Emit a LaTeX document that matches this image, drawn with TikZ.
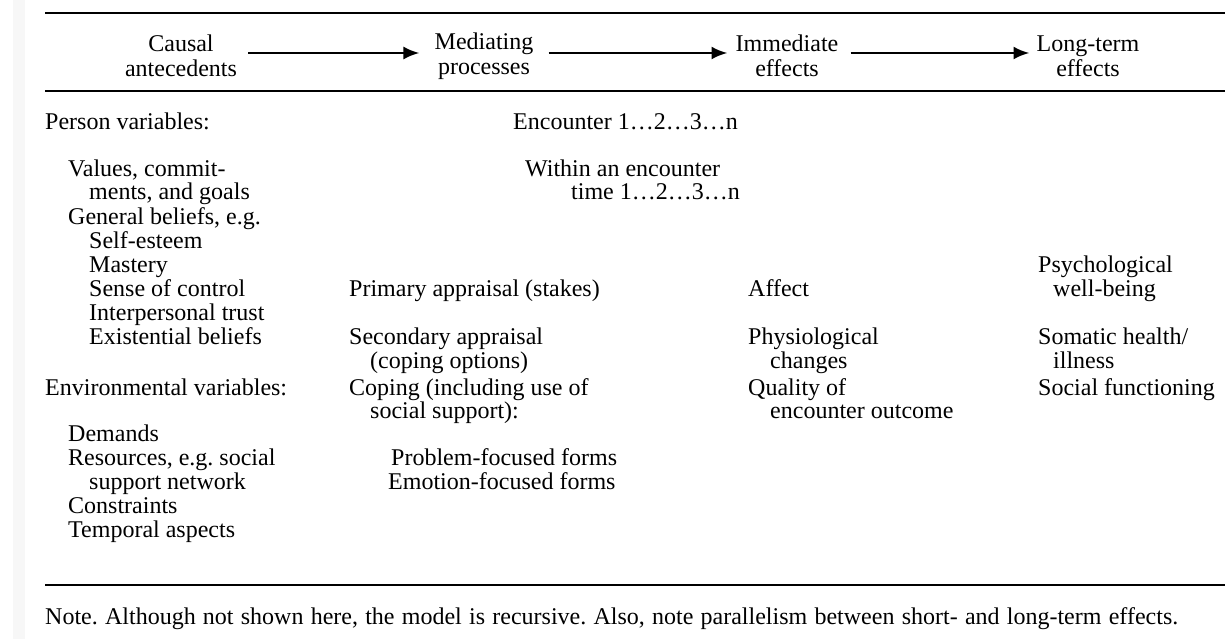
\documentclass[tikz,border=0pt]{standalone}
\usepackage{fontspec}
\setmainfont{Liberation Serif}
\usetikzlibrary{arrows.meta}
\frenchspacing
\begin{document}
\begin{tikzpicture}[x=1pt,y=-1pt,
  every node/.style={font=\fontsize{24}{25}\selectfont, inner sep=0pt},
  txt/.style={anchor=base west},
  head/.style={align=center, anchor=center},
  rule/.style={line width=2.3pt},
  flow/.style={line width=2.5pt, -{Latex[length=16pt,width=13pt]}}]
\useasboundingbox (0,0) rectangle (1230,639);
% faint strip along the left edge of the page
\fill[black!3] (13,0) rectangle (25,639);

% rules of the table
\draw[rule] (45,13) -- (1225,13);
\draw[rule] (45,91) -- (1225,91);
\draw[rule] (45,585) -- (1225,585);

% column headings
\node[head] (h1) at (181,56) {Causal\\antecedents};
\node[head] (h2) at (484,56) {Mediating\\processes};
\node[head] (h3) at (787,56) {Immediate\\effects};
\node[head] (h4) at (1088,56) {Long-term\\effects};
\draw[flow] ([shift={(11pt,3pt)}]h1.east) -- ([shift={(-15pt,3pt)}]h2.west);
\draw[flow] ([shift={(15pt,3pt)}]h2.east) -- ([shift={(-8pt,3pt)}]h3.west);
\draw[flow] ([shift={(12pt,3pt)}]h3.east) -- ([shift={(-7pt,3pt)}]h4.west);

% causal antecedents
\node[txt] (pv)  at (45,130)  {Person variables:};
\node[txt] (va1) at (68,177)  {Values, commit-};
\node[txt] (va2) at (89,200)  {ments, and goals};
\node[txt] (gb)  at (68,224)  {General beliefs, e.g.};
\node[txt] (se)  at (89,248)  {Self-esteem};
\node[txt] (ma)  at (89,272)  {Mastery};
\node[txt] (sc)  at (89,296)  {Sense of control};
\node[txt] (it)  at (89,320)  {Interpersonal trust};
\node[txt] (eb)  at (89,344)  {Existential beliefs};
\node[txt] (ev)  at (45,395)  {Environmental variables:};
\node[txt] (de)  at (68,441)  {Demands};
\node[txt] (re1) at (68,465)  {Resources, e.g. social};
\node[txt] (re2) at (89,489)  {support network};
\node[txt] (co)  at (68,513)  {Constraints};
\node[txt] (ta)  at (68,537)  {Temporal aspects};

% mediating processes
\node[txt] (en)  at (513,130) {Encounter 1\dots2\dots3\dots n};
\node[txt] (wi1) at (525,177) {Within an encounter};
\node[txt] (wi2) at (571,200) {time 1\dots2\dots3\dots n};
\node[txt] (pa)  at (349,296) {Primary appraisal (stakes)};
\node[txt] (sa1) at (349,344) {Secondary appraisal};
\node[txt] (sa2) at (370,368) {(coping options)};
\node[txt] (cp1) at (349,395) {Coping (including use of};
\node[txt] (cp2) at (370,418) {social support):};
\node[txt] (pf)  at (391,465) {Problem-focused forms};
\node[txt] (ef)  at (388,489) {Emotion-focused forms};

% immediate effects
\node[txt] (af)  at (748,296) {Affect};
\node[txt] (ph1) at (748,344) {Physiological};
\node[txt] (ph2) at (770,368) {changes};
\node[txt] (qu1) at (748,395) {Quality of};
\node[txt] (qu2) at (770,418) {encounter outcome};

% long-term effects
\node[txt] (ps1) at (1038,272) {Psychological};
\node[txt] (ps2) at (1053,296) {well-being};
\node[txt] (so1) at (1038,344) {Somatic health/};
\node[txt] (so2) at (1053,368) {illness};
\node[txt] (sf)  at (1038,395) {Social functioning};

% note under the table
\node[txt] (note) at (45,624) {\makebox[1133pt][s]{Note. Although not shown here, the model is recursive. Also, note parallelism between short- and long-term effects.}};
\end{tikzpicture}
\end{document}
